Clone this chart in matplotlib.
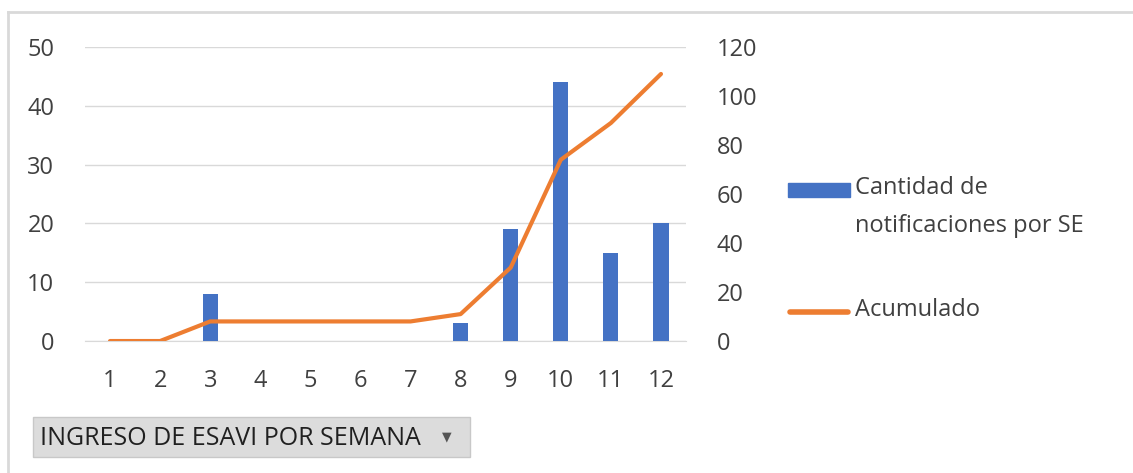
import numpy as np
import matplotlib.pyplot as plt
from matplotlib.patches import Rectangle, FancyBboxPatch
from matplotlib.lines import Line2D

# weekly ESAVI notifications (SE = semana epidemiologica)
semanas = [1, 2, 3, 4, 5, 6, 7, 8, 9, 10, 11, 12]
notificaciones = [0, 0, 8, 0, 0, 0, 0, 3, 19, 44, 15, 20]
acumulado = [0, 0, 8, 8, 8, 8, 8, 11, 30, 74, 89, 109]

left_ticks = [0, 10, 20, 30, 40, 50]
right_ticks = [0, 20, 40, 60, 80, 100, 120]

BLUE = '#4472C4'
ORANGE = '#ED7D31'
TXT = '#404040'
FONT = ['Open Sans', 'DejaVu Sans']
FS = 17

plt.rcParams['font.family'] = FONT

fig = plt.figure(figsize=(11.33, 4.73), dpi=100)
ax1 = fig.add_axes([0.075, 0.279, 0.5305, 0.6216])
ax2 = ax1.twinx()

ax1.bar(semanas, notificaciones, width=0.3, color=BLUE, zorder=3)
ax2.plot(semanas, acumulado, color=ORANGE, linewidth=3, solid_capstyle='round', zorder=4)

ax1.set_xlim(0.5, 12.5)
ax1.set_ylim(0, 50)
ax2.set_ylim(0, 120)
ax1.set_xticks(semanas)
ax1.set_yticks(left_ticks)
ax2.set_yticks(right_ticks)

ax1.grid(axis='y', color='#D9D9D9', linewidth=1, zorder=0)
ax1.set_axisbelow(True)
for ax in (ax1, ax2):
    for s in ax.spines.values():
        s.set_visible(False)
    ax.tick_params(length=0, labelsize=FS, labelcolor=TXT)
ax1.spines['bottom'].set_visible(True)
ax1.spines['bottom'].set_color('#D9D9D9')
ax1.tick_params(axis='x', pad=20)
ax1.tick_params(axis='y', pad=22)
ax2.tick_params(axis='y', pad=22)

# legend drawn by hand to match the two-line label layout
fig.patches.append(Rectangle((788 / 1133, 1 - 197 / 473), 62 / 1133, 14 / 473,
                             transform=fig.transFigure, color=BLUE))
fig.text(855 / 1133, 1 - 188 / 473, 'Cantidad de', fontsize=FS, color=TXT, va='center')
fig.text(855 / 1133, 1 - 226 / 473, 'notificaciones por SE', fontsize=FS, color=TXT, va='center')
fig.lines.append(Line2D([790 / 1133, 848 / 1133], [1 - 312 / 473, 1 - 312 / 473],
                        transform=fig.transFigure, color=ORANGE, linewidth=4,
                        solid_capstyle='round'))
fig.text(855 / 1133, 1 - 310 / 473, 'Acumulado', fontsize=FS, color=TXT, va='center')

# outer chart border (top and left edges visible)
fig.lines.append(Line2D([7.5 / 1133, 1.0], [1 - 12.5 / 473, 1 - 12.5 / 473],
                        transform=fig.transFigure, color='#D9D9D9', linewidth=2))
fig.lines.append(Line2D([7.5 / 1133, 7.5 / 1133], [0, 1 - 12.5 / 473],
                        transform=fig.transFigure, color='#D9D9D9', linewidth=2))

# pivot-chart field button
btn = FancyBboxPatch((33 / 1133, 1 - 457 / 473), 437 / 1133, 40 / 473,
                     boxstyle='square,pad=0', transform=fig.transFigure,
                     facecolor='#DCDCDC', edgecolor='#C8C8C8', linewidth=1)
fig.patches.append(btn)
fig.text(40 / 1133, 1 - 438 / 473, 'INGRESO DE ESAVI POR SEMANA', fontsize=18,
         color='#202020', va='center')
fig.text(447 / 1133, 1 - 437 / 473, '\u25BC', fontsize=9, color='#555555',
         va='center', ha='center', family='DejaVu Sans')

fig.savefig('out.png', dpi=100, facecolor='white')
